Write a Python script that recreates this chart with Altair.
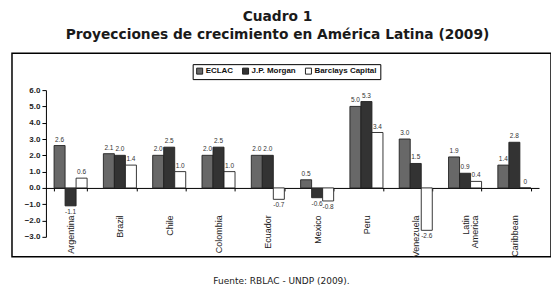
import altair as alt
import pandas as pd

countries = ["Argentina", "Brazil", "Chile", "Colombia", "Ecuador", "Mexico",
             "Peru", "Venezuela", "Latin America", "Caribbean"]
series = ["ECLAC", "J.P. Morgan", "Barclays Capital"]
eclac = [2.6, 2.1, 2.0, 2.0, 2.0, 0.5, 5.0, 3.0, 1.9, 1.4]
jpmorgan = [-1.1, 2.0, 2.5, 2.5, 2.0, -0.6, 5.3, 1.5, 0.9, 2.8]
barclays = [0.6, 1.4, 1.0, 1.0, -0.7, -0.8, 3.4, -2.6, 0.4, 0.0]
y_ticks = [-3, -2, -1, 0, 1, 2, 3, 4, 5, 6]
colors = ["#686868", "#333333", "#ffffff"]

title_lines = ["Cuadro 1", "Proyecciones de crecimiento en América Latina (2009)"]
footer = ["Fuente: RBLAC - UNDP (2009)."]

rows = []
for i, c in enumerate(countries):
    for s, vals in zip(series, [eclac, jpmorgan, barclays]):
        v = vals[i]
        rows.append({"country": c, "series": s, "value": v,
                     "label": "0" if v == 0 else f"{v:.1f}"})
df = pd.DataFrame(rows)

W, H = 540, 204

x_enc = alt.X(
    "country:N", sort=countries,
    scale=alt.Scale(range=[34, 528], paddingInner=0.33, paddingOuter=0.165),
    axis=alt.Axis(
        title=None, orient="bottom", offset=-69, labelAngle=270,
        labelAlign="right", labelBaseline="middle", labelPadding=24,
        tickBand="extent", tickSize=3, domainColor="black", tickColor="black",
        labelFont="Liberation Sans", labelFontSize=9, labelColor="#222",
        labelLineHeight=9,
        labelExpr="datum.value == 'Latin America' ? ['Latin', 'America'] : datum.label",
    ),
)
y_enc = alt.Y(
    "value:Q",
    scale=alt.Scale(domain=[-3, 6], range=[184, 37], nice=False, zero=False),
    axis=alt.Axis(
        title=None, values=y_ticks, format=".1f", offset=-34, tickSize=4,
        grid=False, labelFont="Liberation Sans", labelFontSize=8,
        labelFontWeight="bold", labelColor="#222", domainColor="black",
        tickColor="black",
    ),
)
xoff = alt.XOffset("series:N", sort=series,
                   scale=alt.Scale(domain=series, paddingInner=0, paddingOuter=0))

base = alt.Chart(df)

bars = base.mark_bar(stroke="#222", strokeWidth=0.9).encode(
    x=x_enc, xOffset=xoff, y=y_enc,
    color=alt.Color(
        "series:N", sort=series,
        scale=alt.Scale(domain=series, range=colors),
        legend=alt.Legend(
            title=None, orient="none", legendX=181, legendY=11,
            direction="horizontal", symbolType="square", symbolSize=36,
            symbolStrokeColor="#222", symbolStrokeWidth=1,
            labelFont="Liberation Sans", labelFontSize=8, labelFontWeight="bold",
            labelColor="#111", strokeColor="black",
            padding=3, columnPadding=7, labelOffset=2, fillColor="white",
        ),
    ),
)

pos = base.transform_filter("datum.value >= 0").mark_text(
    baseline="bottom", dy=-3, fontSize=6.5, font="Liberation Sans", color="#333"
).encode(x=x_enc, xOffset=xoff, y=y_enc, text="label:N")

neg = base.transform_filter("datum.value < 0").mark_text(
    baseline="top", dy=3, fontSize=6.5, font="Liberation Sans", color="#333"
).encode(x=x_enc, xOffset=xoff, y=y_enc, text="label:N")

foot = alt.Chart(pd.DataFrame({"t": footer})).mark_text(
    font="DejaVu Sans", fontSize=9, color="#222", baseline="middle"
).encode(x=alt.value(W / 2), y=alt.value(H + 24), text="t:N")

chart = alt.layer(bars, pos, neg, foot).properties(
    width=W, height=H,
    padding={"left": 0, "right": 0, "top": 2, "bottom": 0},
    title=alt.Title(title_lines, font="DejaVu Sans", fontSize=13.8,
                    fontWeight="bold", lineHeight=18, anchor="middle",
                    color="#1a1a1a", offset=11, dx=-4),
).configure_view(stroke="black", strokeWidth=1.5)

chart.save("out.html", embed_options={"renderer": "svg", "actions": False})
